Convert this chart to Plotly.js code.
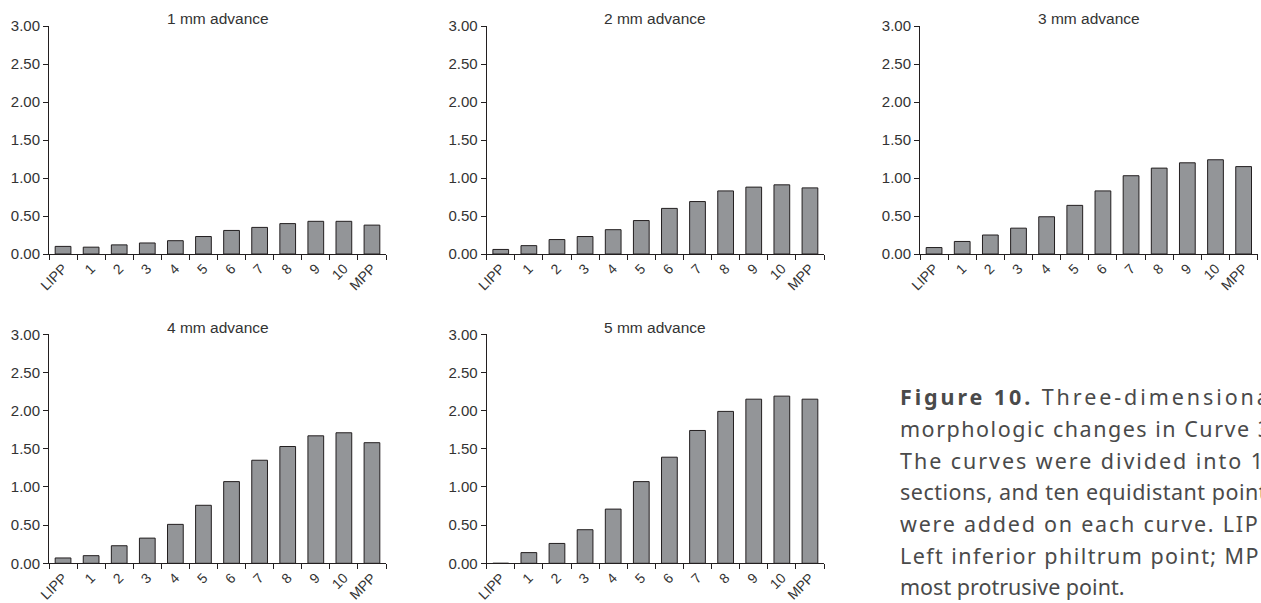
<!DOCTYPE html>
<html>
<head>
<meta charset="utf-8">
<script src="https://cdn.plot.ly/plotly-3.0.1.min.js"></script>
<style>
html,body{margin:0;padding:0;background:#fff;overflow:hidden;}
#chart{width:1261px;height:603px;}
</style>
</head>
<body>
<div id="chart"></div>
<script>
// ---- data ----
const categories = ["LIPP","1","2","3","4","5","6","7","8","9","10","MPP"];
const adv1mm = [0.10, 0.09, 0.12, 0.145, 0.175, 0.23, 0.31, 0.35, 0.40, 0.43, 0.43, 0.38];
const adv2mm = [0.06, 0.11, 0.19, 0.23, 0.32, 0.44, 0.60, 0.69, 0.83, 0.88, 0.91, 0.87];
const adv3mm = [0.085, 0.165, 0.25, 0.34, 0.49, 0.64, 0.83, 1.03, 1.13, 1.20, 1.24, 1.15];
const adv4mm = [0.07, 0.10, 0.23, 0.33, 0.51, 0.76, 1.07, 1.35, 1.53, 1.67, 1.71, 1.58];
const adv5mm = [0.00, 0.14, 0.26, 0.44, 0.71, 1.07, 1.39, 1.74, 1.99, 2.15, 2.19, 2.15];
const panelTitles = ["1 mm advance","2 mm advance","3 mm advance","4 mm advance","5 mm advance"];
const yTickVals = [0, 0.5, 1, 1.5, 2, 2.5, 3];
const captionLines = [
  "<b>Figure 10.</b> Three-dimensional",
  "morphologic changes in Curve 3.",
  "The curves were divided into 11",
  "sections, and ten equidistant points",
  "were added on each curve. LIPP,",
  "Left inferior philtrum point; MPP,",
  "most protrusive point."
];

// ---- layout geometry (pixels) ----
const W = 1261, H = 603;
const series = [adv1mm, adv2mm, adv3mm, adv4mm, adv5mm];
const boxes = [
  {x0: 49,    x1: 386,    yTop: 26,    yBot: 254,   tY: 19},
  {x0: 486.7, x1: 824,    yTop: 26,    yBot: 254,   tY: 19},
  {x0: 920,   x1: 1257.7, yTop: 26,    yBot: 254,   tY: 19},
  {x0: 49,    x1: 386,    yTop: 334.3, yBot: 563.3, tY: 327.7},
  {x0: 486.7, x1: 824,    yTop: 334.3, yBot: 563.3, tY: 327.7}
];
const axisColor = "#231f20";
const yTickFont = {family: "Liberation Sans, Arial, sans-serif", size: 15, color: "#333333"};
const xTickFont = {family: "Liberation Sans, Arial, sans-serif", size: 14, color: "#333333"};

const traces = [];
const layout = {
  width: W, height: H,
  margin: {l: 0, r: 0, t: 0, b: 0},
  paper_bgcolor: "#ffffff", plot_bgcolor: "#ffffff",
  showlegend: false,
  bargap: 0.44,
  annotations: []
};

series.forEach((vals, i) => {
  const n = i + 1;
  const xa = n === 1 ? "x" : "x" + n;
  const ya = n === 1 ? "y" : "y" + n;
  const b = boxes[i];
  traces.push({
    type: "bar", x: categories, y: vals, xaxis: xa, yaxis: ya,
    marker: {color: "#939598", line: {color: axisColor, width: 1}},
    hoverinfo: "x+y"
  });
  layout["xaxis" + (n === 1 ? "" : n)] = {
    domain: [b.x0 / W, b.x1 / W],
    anchor: ya, type: "category",
    range: [-0.5, categories.length - 0.5],
    showline: true, linecolor: axisColor, linewidth: 1,
    ticks: "outside", ticklen: 5, tickcolor: axisColor, tickwidth: 1,
    tickson: "boundaries",
    tickangle: -45, tickfont: xTickFont,
    showgrid: false, zeroline: false, fixedrange: true
  };
  layout["yaxis" + (n === 1 ? "" : n)] = {
    domain: [1 - b.yBot / H, 1 - b.yTop / H],
    anchor: xa, range: [0, 3],
    tickvals: yTickVals, tickformat: ".2f",
    showline: true, linecolor: axisColor, linewidth: 1,
    ticks: "outside", ticklen: 5, tickcolor: axisColor, tickwidth: 1,
    tickfont: yTickFont,
    showgrid: false, zeroline: false, fixedrange: true
  };
  layout.annotations.push({
    text: panelTitles[i], xref: "paper", yref: "paper",
    x: (b.x0 + b.x1) / 2 / W, y: 1 - b.tY / H,
    xanchor: "center", yanchor: "middle", showarrow: false,
    font: {family: "Liberation Sans, Arial, sans-serif", size: 15.5, color: "#333333"}
  });
});

const capX = 897.7, capY0 = 396.7, capStep = 31.67, capRight = 1275;
captionLines.forEach((line, k) => {
  layout.annotations.push({
    text: line, xref: "paper", yref: "paper",
    x: capX / W, y: 1 - (capY0 + k * capStep) / H,
    xanchor: "left", yanchor: "middle", align: "left", showarrow: false,
    font: {family: "Noto Sans, Open Sans, sans-serif", size: 21.5, color: "#4a4a4a"}
  });
});

Plotly.newPlot("chart", traces, layout, {staticPlot: true, displayModeBar: false}).then(gd => {
  // justify caption lines (all but the last) to a common right edge
  const texts = gd.querySelectorAll(".annotation-text");
  const nTitles = panelTitles.length;
  for (let k = 0; k < captionLines.length - 1; k++) {
    const el = texts[nTitles + k];
    if (!el) continue;
    el.setAttribute("text-anchor", "start");
    const natural = el.getComputedTextLength();
    const nChars = (el.textContent || "").length;
    const target = capRight - capX;
    if (nChars > 1 && natural < target) {
      el.style.letterSpacing = ((target - natural) / (nChars - 1)).toFixed(3) + "px";
    }
  }
});
</script>
</body>
</html>
